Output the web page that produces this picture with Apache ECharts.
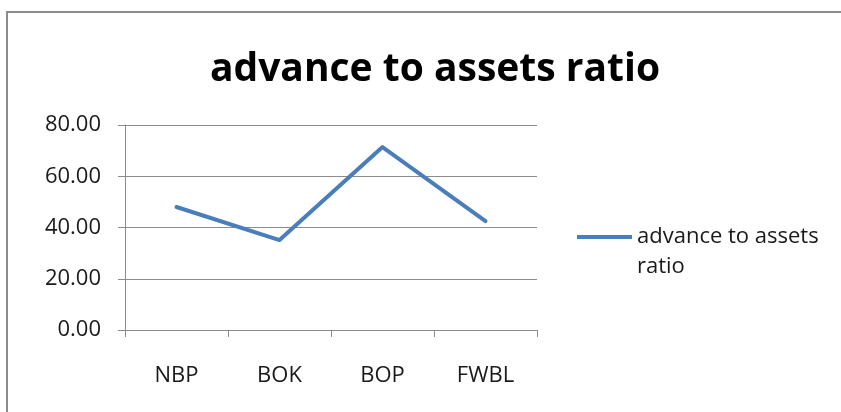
<!DOCTYPE html>
<html style="height: 100%">
<head>
    <meta charset="utf-8">
</head>
<body style="margin: 0; height: 100%; background: #ffffff;">
<div id="container" style="width: 841px; height: 412px;"></div>
<script type="text/javascript" src="https://cdn.jsdelivr.net/npm/echarts@6/dist/echarts.min.js"></script>
<script type="text/javascript">
    // data
    var banks = ['NBP', 'BOK', 'BOP', 'FWBL'];
    var ratioValues = [48.0, 35.1, 71.4, 42.5];
    var seriesName = 'advance to assets ratio';

    var dom = document.getElementById('container');
    var myChart = echarts.init(dom);

    var option = {
        backgroundColor: '#ffffff',
        animation: false,
        graphic: [{
            type: 'rect',
            shape: { x: 7, y: 12, width: 900, height: 500 },
            style: { fill: 'none', stroke: '#8c8c8c', lineWidth: 2 },
            silent: true
        }],
        title: {
            text: seriesName,
            left: 430,
            textAlign: 'center',
            top: 45,
            textStyle: {
                fontFamily: 'Open Sans',
                fontWeight: 'bold',
                fontSize: 39,
                color: '#000000'
            }
        },
        legend: {
            data: [seriesName],
            left: 577,
            top: 192,
            padding: 0,
            orient: 'vertical',
            itemWidth: 55,
            itemHeight: 4,
            icon: 'rect',
            // leading empty line keeps the icon level with the first line
            formatter: function () {
                return '\nadvance to assets\nratio';
            },
            textStyle: {
                fontFamily: 'Open Sans',
                fontSize: 22,
                color: '#1a1a1a',
                lineHeight: 30
            }
        },
        grid: {
            left: 125,
            right: 304,
            top: 125,
            bottom: 82
        },
        xAxis: {
            type: 'category',
            data: banks,
            boundaryGap: true,
            axisLine: { lineStyle: { color: '#8c8c8c', width: 1 } },
            axisTick: { show: true, length: 7, lineStyle: { color: '#8c8c8c' } },
            axisLabel: {
                margin: 35,
                fontFamily: 'Open Sans',
                fontSize: 22,
                color: '#1a1a1a'
            }
        },
        yAxis: {
            type: 'value',
            min: 0,
            max: 80,
            interval: 20,
            axisLine: { show: true, lineStyle: { color: '#8c8c8c', width: 1 } },
            axisTick: { show: true, length: 7, lineStyle: { color: '#8c8c8c' } },
            splitLine: { lineStyle: { color: '#8c8c8c', width: 1 } },
            axisLabel: {
                margin: 24,
                fontFamily: 'Open Sans',
                fontSize: 22,
                color: '#1a1a1a',
                formatter: function (v) { return v.toFixed(2); }
            }
        },
        series: [{
            name: seriesName,
            type: 'line',
            data: ratioValues,
            symbol: 'none',
            lineStyle: { color: '#4a7ebb', width: 4, join: 'round', cap: 'round' },
            itemStyle: { color: '#4a7ebb' }
        }]
    };

    myChart.setOption(option);
</script>
</body>
</html>
